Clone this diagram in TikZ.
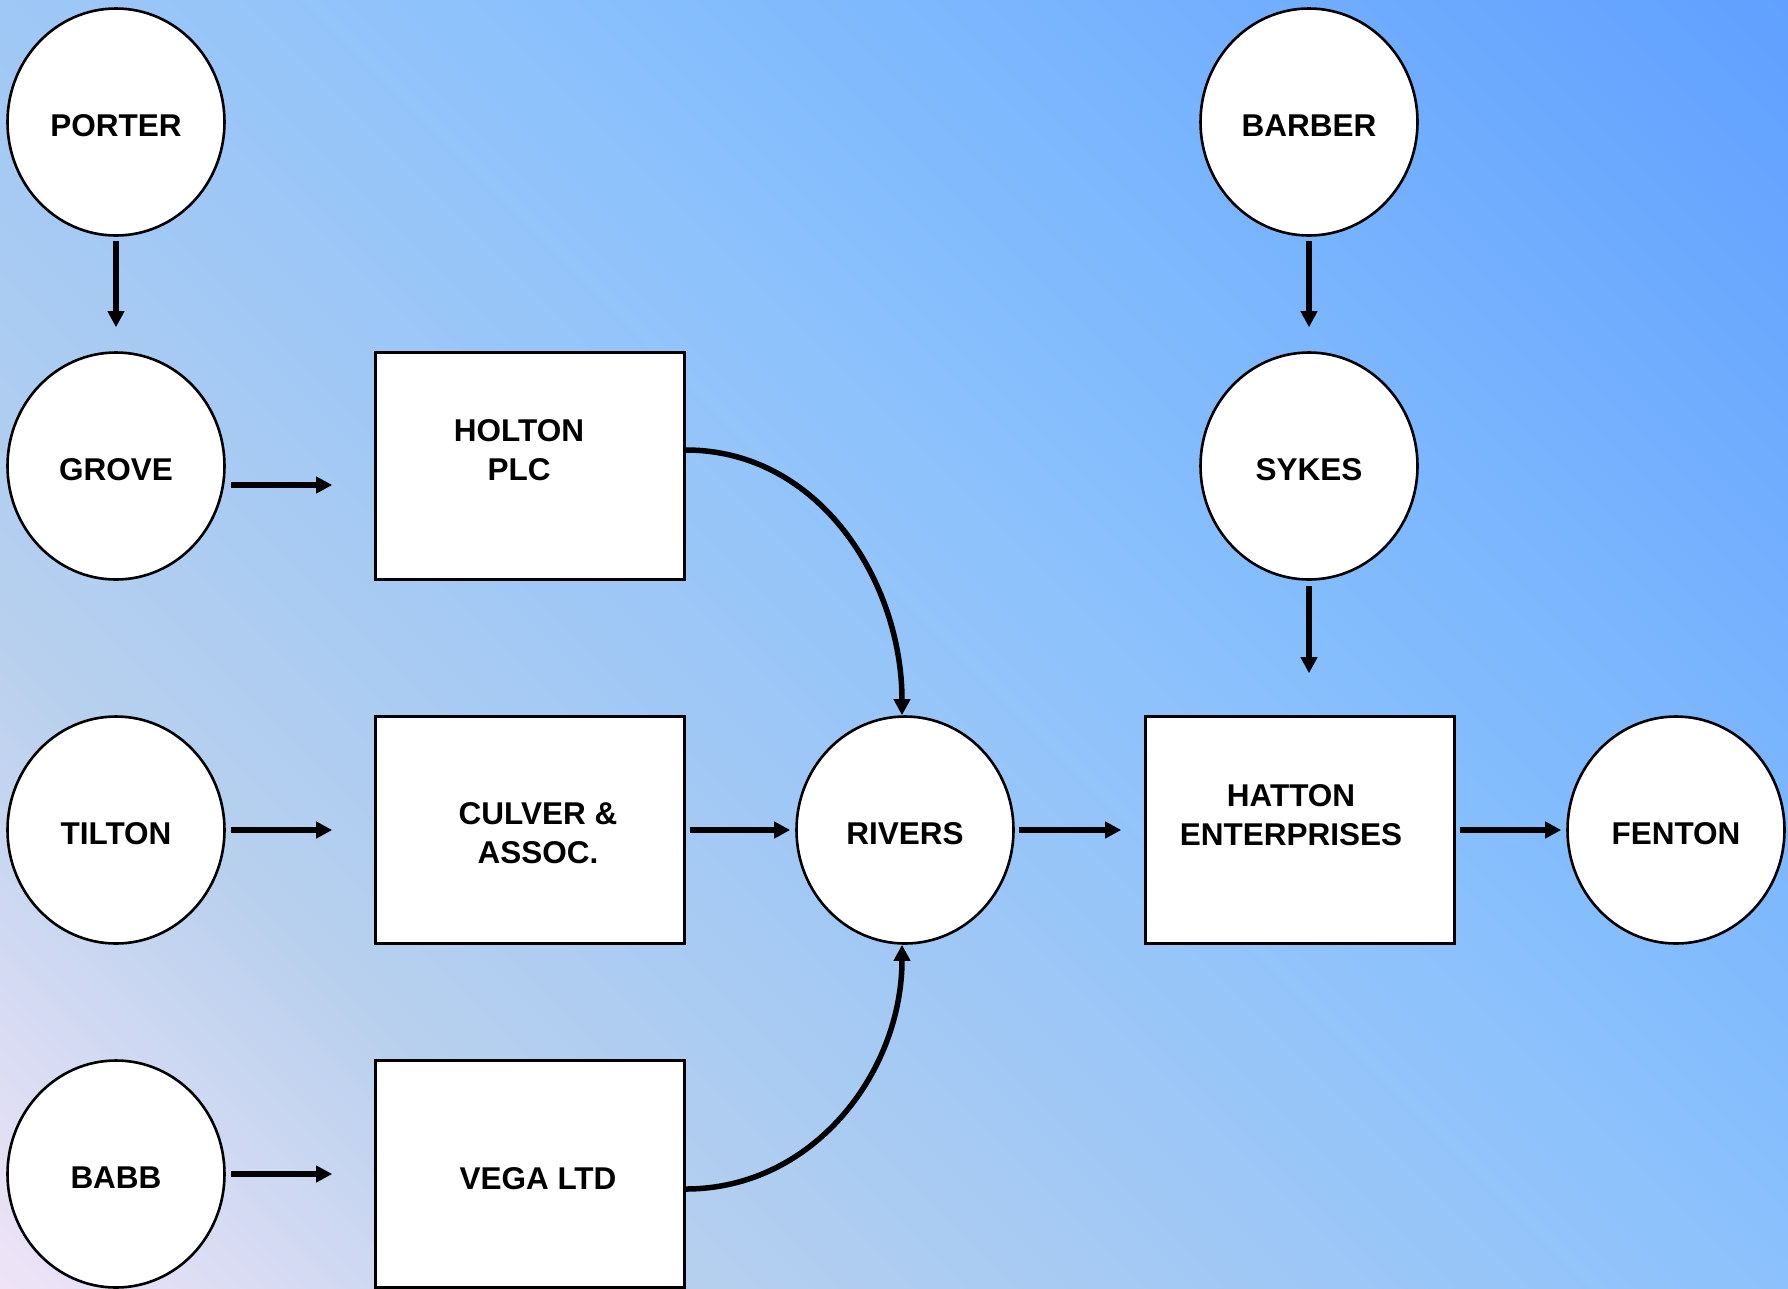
\documentclass[tikz,border=0pt]{standalone}
\usepackage{fontspec}
\setmainfont{Liberation Sans}
\usetikzlibrary{arrows.meta,shapes.geometric}
\definecolor{bglav}{HTML}{EFE4F7}
\definecolor{bgsoft}{HTML}{B8D0EE}
\definecolor{bgmid}{HTML}{88C0FD}
\definecolor{bgdeep}{HTML}{60A0FF}
\pgfdeclarehorizontalshading{bgfade}{100bp}{color(0bp)=(bglav); color(25bp)=(bglav); color(35.5bp)=(bgsoft); color(55.5bp)=(bgmid); color(75bp)=(bgdeep); color(100bp)=(bgdeep)}
\tikzset{
    firm/.style={ellipse, draw, fill=white, line width=2.6pt, inner sep=0pt, minimum width=217pt, minimum height=227pt, text height=29pt, font=\bfseries\fontsize{31.5pt}{38.8pt}\selectfont},
    office/.style={rectangle, draw, fill=white, line width=2.6pt, minimum width=309pt, minimum height=227pt},
    tag/.style={align=center, inner sep=0pt, font=\bfseries\fontsize{31.5pt}{38.8pt}\selectfont},
    flow/.style={draw, line width=5.5pt, -{Triangle[length=16pt, width=16pt]}}
}

\begin{document}
\begin{tikzpicture}[x=1pt, y=-1pt]
    \useasboundingbox (0,0) rectangle (1788,1288);
    % background
    \begin{scope}
        \clip (0,0) rectangle (1788,1288);
        \shade[shading=bgfade, transform canvas={rotate around={45:(894,644)}}] (-194,-1100) rectangle (1982,2388);
    \end{scope}

    % Nodes
    \node[firm] (porter) at (116,122) {PORTER};
    \node[firm] (grove) at (116,466) {GROVE};
    \node[firm] (tilton) at (116,830) {TILTON};
    \node[firm] (babb) at (116,1174) {BABB};
    \node[office] (holton) at (530,466) {};
    \node[office] (culver) at (530,830) {};
    \node[office] (vega) at (530,1174) {};
    \node[firm] (rivers) at (905,830) {RIVERS};
    \node[firm] (barber) at (1309,122) {BARBER};
    \node[firm] (sykes) at (1309,466) {SYKES};
    \node[office] (hatton) at (1300,830) {};
    \node[firm] (fenton) at (1676,830) {FENTON};

    % box texts
    \node[tag] (holtontxt) at (519,450.5) {HOLTON\\PLC};
    \node[tag] (culvertxt) at (538,833.5) {CULVER \&\\ASSOC.};
    \node[tag] (vegatxt) at (538,1178.5) {VEGA LTD};
    \node[tag] (hattontxt) at (1291,815.5) {HATTON\\ENTERPRISES};

    % edges
    \draw[flow, shorten <=4pt, shorten >=24pt] (porter) -- (grove);
    \draw[flow, shorten <=4pt, shorten >=24pt] (barber) -- (sykes);
    \draw[flow, shorten <=5pt, shorten >=42pt] (sykes) -- (sykes |- hatton.north);
    \draw[flow, shorten <=5pt, shorten >=42pt] ([yshift=-19pt]grove.east) -- ([yshift=-19pt]holton.west);
    \draw[flow, shorten <=5pt, shorten >=42pt] (tilton) -- (culver);
    \draw[flow, shorten <=5pt, shorten >=42pt] (babb) -- (vega);
    \draw[flow, shorten <=4pt, shorten >=5pt] (culver) -- (rivers);
    \draw[flow, shorten <=4pt, shorten >=23pt] (rivers) -- (hatton);
    \draw[flow, shorten <=4pt, shorten >=5pt] (hatton) -- (fenton);
    \draw[flow] ([yshift=16pt]holton.east) to[out=0, in=90] ([xshift=-3pt]rivers.north);
    \draw[flow] ([yshift=-15pt]vega.east) to[out=0, in=-90] ([xshift=-3pt]rivers.south);
\end{tikzpicture}
\end{document}
